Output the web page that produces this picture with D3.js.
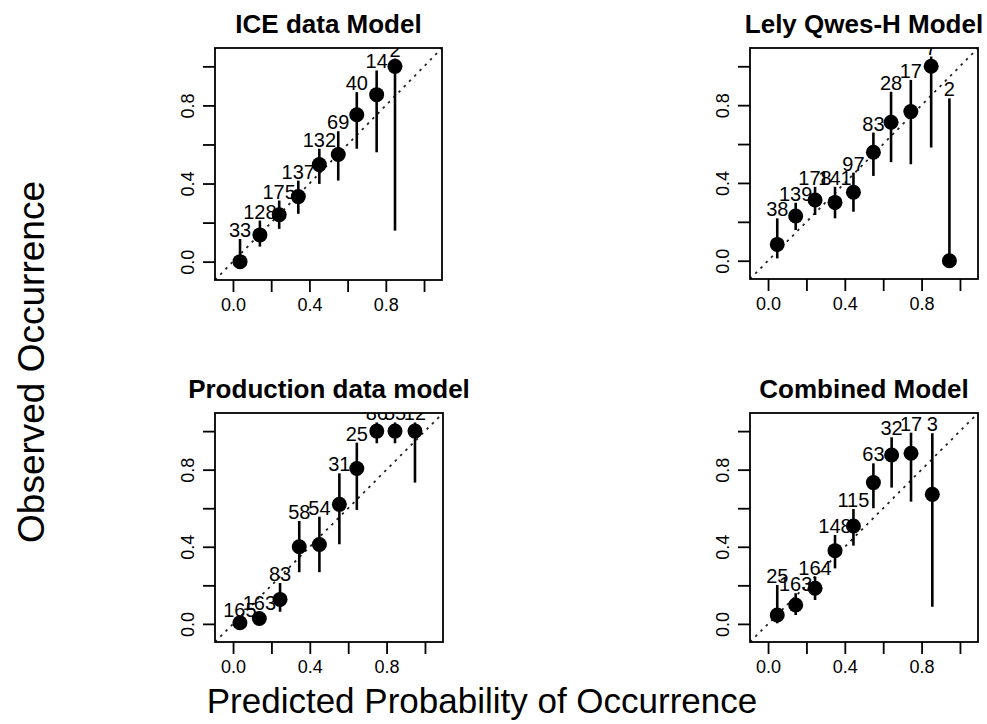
<!DOCTYPE html>
<html>
<head>
<meta charset="utf-8">
<script src="https://cdn.jsdelivr.net/npm/d3@7"></script>
<style>
  body { margin: 0; background: #fff; }
  text { font-family: "Liberation Sans", Arial, sans-serif; fill: #000; }
</style>
</head>
<body>
<script>
// calibration bins: mean predicted prob, observed rate, CI, n per bin
const panelTitles = ["ICE data Model", "Lely Qwes-H Model", "Production data model", "Combined Model"];

const icePred  = [0.037, 0.141, 0.242, 0.342, 0.452, 0.551, 0.648, 0.752, 0.848];
const iceObs   = [0.0, 0.137, 0.24, 0.333, 0.497, 0.549, 0.752, 0.855, 1.0];
const iceLower = [0.0, 0.077, 0.168, 0.245, 0.398, 0.415, 0.578, 0.56, 0.159];
const iceUpper = [0.116, 0.21, 0.313, 0.415, 0.578, 0.668, 0.868, 0.979, 1.04];
const iceN     = [33, 128, 175, 137, 132, 69, 40, 14, 2];

const lelyPred  = [0.048, 0.144, 0.245, 0.349, 0.445, 0.549, 0.641, 0.744, 0.85, 0.945];
const lelyObs   = [0.084, 0.23, 0.312, 0.3, 0.352, 0.558, 0.712, 0.767, 1.0, 0.0];
const lelyLower = [0.012, 0.158, 0.235, 0.218, 0.252, 0.436, 0.507, 0.496, 0.582, 0.0];
const lelyUpper = [0.218, 0.298, 0.38, 0.38, 0.453, 0.659, 0.869, 0.93, 1.05, 0.835];
const lelyN     = [38, 139, 178, 141, 97, 83, 28, 17, 7, 2];

const prodPred  = [0.036, 0.137, 0.245, 0.345, 0.45, 0.554, 0.645, 0.749, 0.844, 0.948];
const prodObs   = [0.006, 0.028, 0.127, 0.4, 0.412, 0.62, 0.806, 1.0, 1.0, 1.0];
const prodLower = [0.0, 0.005, 0.063, 0.268, 0.268, 0.413, 0.591, 0.937, 0.937, 0.733];
const prodUpper = [0.025, 0.062, 0.212, 0.534, 0.556, 0.781, 0.94, 1.045, 1.045, 1.045];
const prodN     = [165, 163, 83, 58, 54, 31, 25, 86, 55, 12];

const combPred  = [0.048, 0.144, 0.245, 0.349, 0.445, 0.549, 0.644, 0.745, 0.856];
const combObs   = [0.046, 0.098, 0.185, 0.38, 0.508, 0.733, 0.876, 0.885, 0.672];
const combLower = [0.003, 0.046, 0.124, 0.288, 0.406, 0.6, 0.707, 0.634, 0.089];
const combUpper = [0.202, 0.159, 0.245, 0.461, 0.596, 0.833, 0.968, 0.992, 0.989];
const combN     = [25, 163, 164, 148, 115, 63, 32, 17, 3];

const axisTicks = [0, 0.2, 0.4, 0.6, 0.8, 1.0];
const labelledTicks = [0, 0.4, 0.8];

const xTitle = "Predicted Probability of Occurrence";
const yTitle = "Observed Occurrence";

// layout
const W = 987, H = 724;
const lim = [-0.094, 1.094];
const boxes = [
	{left: 215, top: 48, right: 442, bottom: 280},
	{left: 750, top: 48, right: 978, bottom: 279},
	{left: 215, top: 413, right: 443, bottom: 642},
	{left: 750, top: 413, right: 978, bottom: 642}
];

function bins(pred, obs, lower, upper, n) {
	return pred.map((p, i) => ({pred: p, obs: obs[i], lower: lower[i], upper: upper[i], n: n[i]}));
}

const panels = [
	bins(icePred, iceObs, iceLower, iceUpper, iceN),
	bins(lelyPred, lelyObs, lelyLower, lelyUpper, lelyN),
	bins(prodPred, prodObs, prodLower, prodUpper, prodN),
	bins(combPred, combObs, combLower, combUpper, combN)
];

const svg = d3.select("body").append("svg")
	.attr("width", W)
	.attr("height", H);

svg.append("rect").attr("width", W).attr("height", H).attr("fill", "#fff");

const fmt = d3.format(".1f");

panels.forEach((data, i) => {
	const b = boxes[i];
	const x = d3.scaleLinear().domain(lim).range([b.left, b.right]);
	const y = d3.scaleLinear().domain(lim).range([b.bottom, b.top]);

	svg.append("clipPath").attr("id", "clip" + i)
		.append("rect")
		.attr("x", b.left).attr("y", b.top)
		.attr("width", b.right - b.left).attr("height", b.bottom - b.top);

	const g = svg.append("g").attr("clip-path", `url(#clip${i})`);

	// 1:1 reference line
	g.append("line")
		.attr("x1", x(lim[0])).attr("y1", y(lim[0]))
		.attr("x2", x(lim[1])).attr("y2", y(lim[1]))
		.attr("stroke", "#222")
		.attr("stroke-width", 1.8)
		.attr("stroke-dasharray", "2.5,5");

	g.selectAll("line.ci")
		.data(data).enter()
		.append("line")
		.attr("class", "ci")
		.attr("x1", d => x(d.pred)).attr("x2", d => x(d.pred))
		.attr("y1", d => y(d.lower)).attr("y2", d => y(d.upper))
		.attr("stroke", "#000")
		.attr("stroke-width", 2.6);

	g.selectAll("circle")
		.data(data).enter()
		.append("circle")
		.attr("cx", d => x(d.pred))
		.attr("cy", d => y(d.obs))
		.attr("r", 7.5)
		.attr("fill", "#000");

	g.selectAll("text.n")
		.data(data).enter()
		.append("text")
		.attr("class", "n")
		.attr("x", d => x(d.pred))
		.attr("y", d => y(d.upper) - 2)
		.attr("text-anchor", "middle")
		.attr("font-size", 20)
		.attr("fill", "#222")
		.text(d => d.n);

	// box
	svg.append("rect")
		.attr("x", b.left).attr("y", b.top)
		.attr("width", b.right - b.left).attr("height", b.bottom - b.top)
		.attr("fill", "none")
		.attr("stroke", "#000")
		.attr("stroke-width", 1.8);

	const tickFmt = v => labelledTicks.some(t => Math.abs(t - v) < 1e-9) ? fmt(v) : "";

	const xa = svg.append("g")
		.attr("transform", `translate(0,${b.bottom})`)
		.call(d3.axisBottom(x).tickValues(axisTicks).tickSize(12).tickFormat(tickFmt));
	xa.select(".domain").remove();
	xa.selectAll("line").attr("stroke-width", 1.8);
	xa.selectAll("text")
		.attr("y", 31).attr("dy", 0)
		.attr("font-size", 18)
		.attr("font-family", "Liberation Sans, Arial, sans-serif")
		.attr("fill", "#000");

	const ya = svg.append("g")
		.attr("transform", `translate(${b.left},0)`)
		.call(d3.axisLeft(y).tickValues(axisTicks).tickSize(12).tickFormat(tickFmt));
	ya.select(".domain").remove();
	ya.selectAll("line").attr("stroke-width", 1.8);
	ya.selectAll("text")
		.attr("x", 0).attr("dy", 0)
		.attr("transform", "translate(-21,0) rotate(-90)")
		.attr("text-anchor", "middle")
		.attr("font-size", 18)
		.attr("font-family", "Liberation Sans, Arial, sans-serif")
		.attr("fill", "#000");

	svg.append("text")
		.attr("x", (b.left + b.right) / 2)
		.attr("y", b.top - 15)
		.attr("text-anchor", "middle")
		.attr("font-size", 26)
		.attr("font-weight", "bold")
		.text(panelTitles[i]);
});

svg.append("text")
	.attr("x", 482)
	.attr("y", 713)
	.attr("text-anchor", "middle")
	.attr("font-size", 35)
	.text(xTitle);

svg.append("text")
	.attr("transform", "translate(44,362) rotate(-90)")
	.attr("text-anchor", "middle")
	.attr("font-size", 37)
	.text(yTitle);
</script>
</body>
</html>
